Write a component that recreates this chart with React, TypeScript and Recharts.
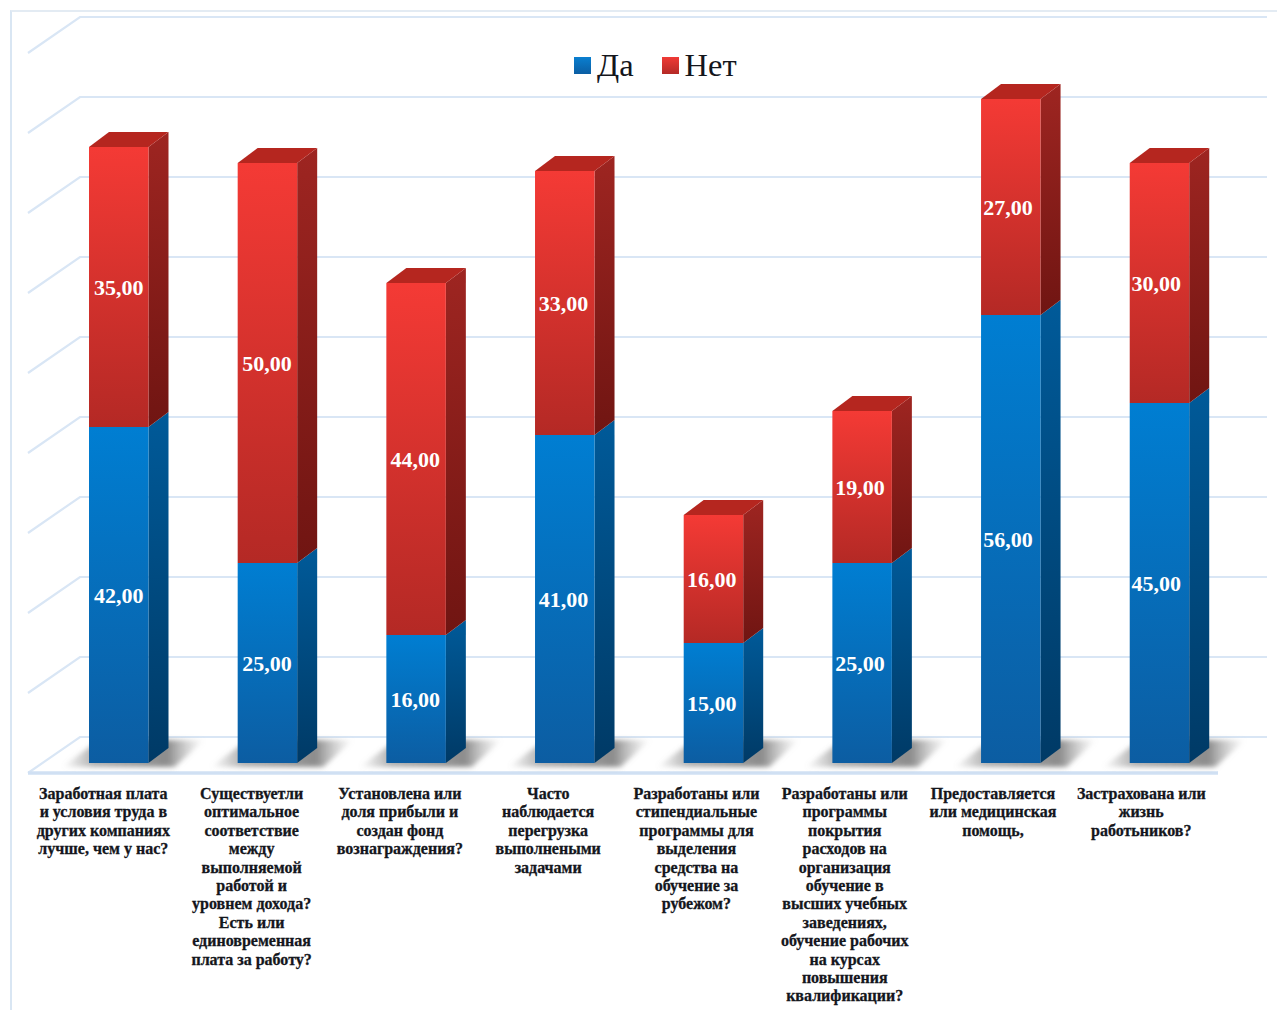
import React from "react";
import { BarChart, Bar, XAxis, YAxis, CartesianGrid, Legend, LabelList } from "recharts";

const categories = [
  "Заработная плата\nи условия труда в\nдругих компаниях\nлучше, чем у нас?",
  "Существуетли\nоптимальное\nсоответствие\nмежду\nвыполняемой\nработой и\nуровнем дохода?\nЕсть или\nединовременная\nплата за работу?",
  "Установлена или\nдоля прибыли и\nсоздан фонд\nвознаграждения?",
  "Часто\nнаблюдается\nперегрузка\nвыполнеными\nзадачами",
  "Разработаны или\nстипендиальные\nпрограммы для\nвыделения\nсредства на\nобучение за\nрубежом?",
  "Разработаны или\nпрограммы\nпокрытия\nрасходов на\nорганизация\nобучение в\nвысших учебных\nзаведениях,\nобучение рабочих\nна курсах\nповышения\nквалификации?",
  "Предоставляется\nили медицинская\nпомощь,",
  "Застрахована или\nжизнь\nработьников?",
];
const yesValues = [42, 25, 16, 41, 15, 25, 56, 45];
const noValues = [35, 50, 44, 33, 16, 19, 27, 30];
const valueTicks = [0, 10, 20, 30, 40, 50, 60, 70, 80, 90];

const data = categories.map((name, i) => ({ name, yes: yesValues[i], no: noValues[i] }));

const SERIF = "'Liberation Serif', serif";
const DX = 20;
const DY = 15;

function BarShape(props: any) {
  const { x, y, width, height, palette, floorShadow, cap } = props;
  const r = x + width;
  const b = y + height;
  return (
    <g>
      {floorShadow && (
        <path
          d={`M${x - 27} ${b + 4} L${r + 26} ${b + 4} L${r + 56} ${b - 23} L${x + 10} ${b - 23} Z`}
          fill="url(#floorShadow)"
          filter="url(#blurShadow)"
        />
      )}
      <path
        d={`M${r} ${y} L${r + DX} ${y - DY} L${r + DX} ${b - DY} L${r} ${b} Z`}
        fill={`url(#${palette}Side)`}
      />
      {cap && (
        <path
          d={`M${x} ${y} L${x + DX} ${y - DY} L${r + DX} ${y - DY} L${r} ${y} Z`}
          fill="#b5261f"
        />
      )}
      <rect x={x} y={y} width={width} height={height} fill={`url(#${palette}Front)`} />
    </g>
  );
}

function GridLine(props: any) {
  const { y1, index } = props;
  const wall = `M28 ${y1 + 10} L80 ${y1 - 26} L1267 ${y1 - 26}`;
  return (
    <g key={`grid-${index}-${y1}`}>
      <path d={wall} fill="none" stroke="#d9e6f5" strokeWidth={2.2} />
      {y1 > 760 && <path d={`M28 ${y1 + 10} L1218 ${y1 + 10}`} stroke="#d0e0f3" strokeWidth={3.4} />}
    </g>
  );
}

function CategoryTick(props: any) {
  const { x, y, payload, index } = props;
  const lines = String(payload.value).split("\n");
  const cx = x - 15 - index * 0.4;
  return (
    <text
      x={cx}
      y={y}
      textAnchor="middle"
      fontFamily={SERIF}
      fontWeight="bold"
      fontSize={16}
      fill="#14161c"
      stroke="#14161c"
      strokeWidth={0.3}
    >
      {lines.map((line, i) => (
        <tspan key={i} x={cx} y={799 + i * 18.4}>
          {line}
        </tspan>
      ))}
    </text>
  );
}

function ValueLabel(props: any) {
  const { x, y, width, height, value, index } = props;
  return (
    <text
      x={x + width / 2 - index * 0.45}
      y={y + height / 2 + 8}
      textAnchor="middle"
      fontFamily={SERIF}
      fontWeight="bold"
      fontSize={22}
      fill="#fff"
    >
      {Number(value).toFixed(2).replace(".", ",")}
    </text>
  );
}

function LegendBox({ payload }: any) {
  return (
    <div style={{ display: "flex", alignItems: "center", fontFamily: SERIF, fontSize: 32.5, color: "#14161c" }}>
      {(payload || []).map((item: any, i: number) => (
        <div key={item.value} style={{ display: "flex", alignItems: "center", marginRight: i === 0 ? 28 : 0 }}>
          <span
            style={{
              display: "inline-block",
              width: 17,
              height: 17,
              marginRight: 6,
              background:
                item.dataKey === "yes"
                  ? "linear-gradient(#0a7fd0, #0b5ea3)"
                  : "linear-gradient(#f03a35, #b42a26)",
            }}
          />
          {item.value}
        </div>
      ))}
    </div>
  );
}

export default function App() {
  return (
    <div style={{ position: "absolute", left: 0, top: 0, width: 1277, height: 1010, background: "#fff", overflow: "hidden" }}>
      <div
        style={{
          position: "absolute",
          left: 10,
          top: 10,
          width: 1267,
          height: 1000,
          borderLeft: "2px solid #d9e6f3",
          borderTop: "2px solid #e3ebf3",
        }}
      />
      <BarChart
        width={1277}
        height={1010}
        data={data}
        margin={{ top: 43, right: 43.6, bottom: 217, left: 44 }}
        barSize={59.5}
        barGap={0}
        style={{ position: "absolute", left: 0, top: 0 }}
      >
        <defs>
          <linearGradient id="blueFront" x1="0" y1="0" x2="0" y2="1">
            <stop offset="0" stopColor="#007ed2" />
            <stop offset="1" stopColor="#0c5da2" />
          </linearGradient>
          <linearGradient id="blueSide" x1="0" y1="0" x2="0" y2="1">
            <stop offset="0" stopColor="#005a99" />
            <stop offset="1" stopColor="#003a66" />
          </linearGradient>
          <linearGradient id="redFront" x1="0" y1="0" x2="0" y2="1">
            <stop offset="0" stopColor="#f43a35" />
            <stop offset="1" stopColor="#b42925" />
          </linearGradient>
          <linearGradient id="redSide" x1="0" y1="0" x2="0" y2="1">
            <stop offset="0" stopColor="#9e2521" />
            <stop offset="1" stopColor="#701512" />
          </linearGradient>
          <linearGradient id="floorShadow" x1="0" y1="0" x2="1" y2="0">
            <stop offset="0" stopColor="#8a8a8a" stopOpacity={0} />
            <stop offset="0.22" stopColor="#7d7d7d" stopOpacity={0.6} />
            <stop offset="0.74" stopColor="#777" stopOpacity={0.85} />
            <stop offset="1" stopColor="#aaa" stopOpacity={0} />
          </linearGradient>
          <filter id="blurShadow" x="-20%" y="-40%" width="140%" height="180%">
            <feGaussianBlur stdDeviation="2.5" />
          </filter>
        </defs>
        <CartesianGrid horizontal={GridLine as any} vertical={false} />
        <XAxis dataKey="name" axisLine={false} tickLine={false} tick={CategoryTick} interval={0} />
        <YAxis hide domain={[0, 90]} ticks={valueTicks} />
        <Legend
          layout="horizontal"
          verticalAlign="middle"
          align="center"
          content={LegendBox as any}
          wrapperStyle={{ position: "absolute", left: 574, top: 47, width: 180, height: 40 }}
        />
        <Bar
          dataKey="yes"
          name="Да"
          stackId="a"
          isAnimationActive={false}
          fill="#0a7fd0"
          shape={(p: any) => <BarShape {...p} palette="blue" floorShadow />}
        >
          <LabelList dataKey="yes" content={ValueLabel as any} />
        </Bar>
        <Bar
          dataKey="no"
          name="Нет"
          stackId="a"
          isAnimationActive={false}
          fill="#f03a35"
          shape={(p: any) => <BarShape {...p} palette="red" cap />}
        >
          <LabelList dataKey="no" content={ValueLabel as any} />
        </Bar>
      </BarChart>
    </div>
  );
}
